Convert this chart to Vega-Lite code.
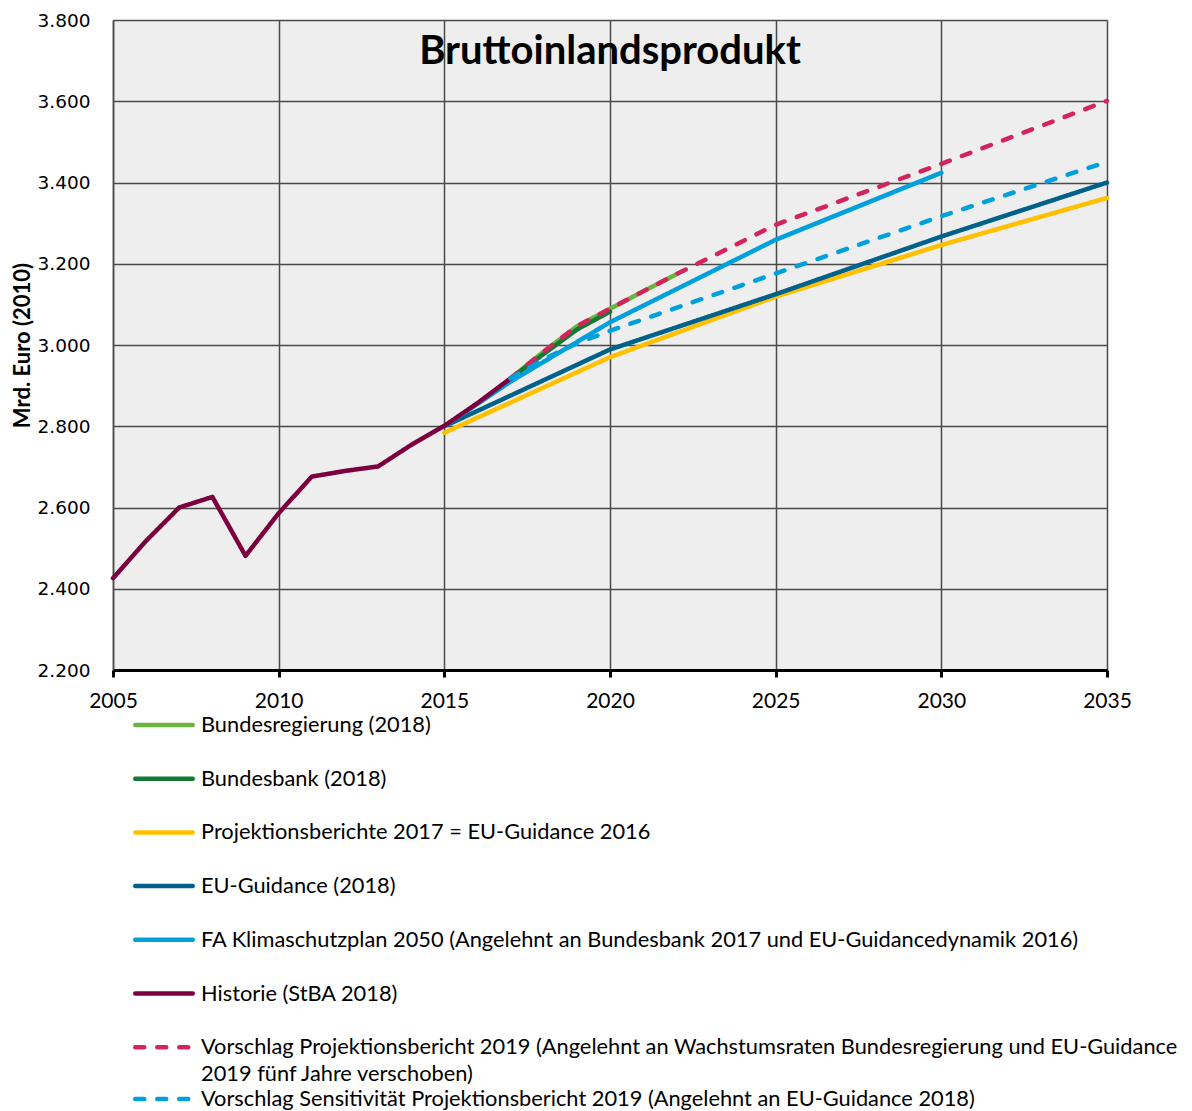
{
  "$schema": "https://vega.github.io/schema/vega-lite/v6.json",
  "width": 994,
  "height": 650,
  "autosize": "none",
  "padding": {"left": 113, "top": 20, "right": 85, "bottom": 441},
  "background": "white",
  "title": {
    "text": "Bruttoinlandsprodukt",
    "anchor": "middle",
    "frame": "group",
    "font": "Lato",
    "fontSize": 40,
    "fontWeight": "bold",
    "color": "#000000",
    "baseline": "alphabetic",
    "offset": -44,
    "dy": 49
  },
  "config": {
    "view": {"fill": "#eeeeee", "stroke": null},
    "font": "Lato",
    "legend": {
      "orient": "none",
      "direction": "vertical",
      "title": null,
      "symbolType": "stroke",
      "symbolSize": 3306,
      "symbolStrokeWidth": 4.5,
      "symbolOffset": 0,
      "clipHeight": 20,
      "rowPadding": 31.7,
      "labelFont": "Lato",
      "labelFontSize": 21.8,
      "labelColor": "#000000",
      "labelOffset": 6,
      "labelLimit": 1150,
      "labelBaseline": "top",
      "padding": 0
    }
  },
  "data": {
    "values": [
      {"series": "Bundesregierung (2018)", "year": 2017, "value": 2918},
      {"series": "Bundesregierung (2018)", "year": 2018, "value": 2984},
      {"series": "Bundesregierung (2018)", "year": 2019, "value": 3046},
      {"series": "Bundesregierung (2018)", "year": 2020, "value": 3089},
      {"series": "Bundesregierung (2018)", "year": 2021, "value": 3132},
      {"series": "Bundesregierung (2018)", "year": 2022, "value": 3174},
      {"series": "Bundesbank (2018)", "year": 2017, "value": 2918},
      {"series": "Bundesbank (2018)", "year": 2018, "value": 2978},
      {"series": "Bundesbank (2018)", "year": 2019, "value": 3038},
      {"series": "Bundesbank (2018)", "year": 2020, "value": 3082},
      {"series": "Projektionsberichte 2017 = EU-Guidance 2016", "year": 2015, "value": 2784},
      {"series": "Projektionsberichte 2017 = EU-Guidance 2016", "year": 2020, "value": 2970},
      {"series": "Projektionsberichte 2017 = EU-Guidance 2016", "year": 2025, "value": 3119},
      {"series": "Projektionsberichte 2017 = EU-Guidance 2016", "year": 2030, "value": 3246},
      {"series": "Projektionsberichte 2017 = EU-Guidance 2016", "year": 2035, "value": 3362},
      {"series": "EU-Guidance (2018)", "year": 2015, "value": 2800},
      {"series": "EU-Guidance (2018)", "year": 2020, "value": 2989},
      {"series": "EU-Guidance (2018)", "year": 2025, "value": 3125},
      {"series": "EU-Guidance (2018)", "year": 2030, "value": 3267},
      {"series": "EU-Guidance (2018)", "year": 2035, "value": 3400},
      {"series": "FA Klimaschutzplan 2050 (Angelehnt an Bundesbank 2017 und EU-Guidancedynamik 2016)", "year": 2015, "value": 2800},
      {"series": "FA Klimaschutzplan 2050 (Angelehnt an Bundesbank 2017 und EU-Guidancedynamik 2016)", "year": 2016, "value": 2855},
      {"series": "FA Klimaschutzplan 2050 (Angelehnt an Bundesbank 2017 und EU-Guidancedynamik 2016)", "year": 2017, "value": 2910},
      {"series": "FA Klimaschutzplan 2050 (Angelehnt an Bundesbank 2017 und EU-Guidancedynamik 2016)", "year": 2020, "value": 3056},
      {"series": "FA Klimaschutzplan 2050 (Angelehnt an Bundesbank 2017 und EU-Guidancedynamik 2016)", "year": 2025, "value": 3259},
      {"series": "FA Klimaschutzplan 2050 (Angelehnt an Bundesbank 2017 und EU-Guidancedynamik 2016)", "year": 2030, "value": 3424},
      {"series": "Historie (StBA 2018)", "year": 2005, "value": 2426},
      {"series": "Historie (StBA 2018)", "year": 2006, "value": 2518},
      {"series": "Historie (StBA 2018)", "year": 2007, "value": 2600},
      {"series": "Historie (StBA 2018)", "year": 2008, "value": 2626},
      {"series": "Historie (StBA 2018)", "year": 2009, "value": 2481},
      {"series": "Historie (StBA 2018)", "year": 2010, "value": 2586},
      {"series": "Historie (StBA 2018)", "year": 2011, "value": 2676},
      {"series": "Historie (StBA 2018)", "year": 2012, "value": 2690},
      {"series": "Historie (StBA 2018)", "year": 2013, "value": 2701},
      {"series": "Historie (StBA 2018)", "year": 2014, "value": 2754},
      {"series": "Historie (StBA 2018)", "year": 2015, "value": 2801},
      {"series": "Historie (StBA 2018)", "year": 2016, "value": 2857},
      {"series": "Historie (StBA 2018)", "year": 2017, "value": 2918},
      {"series": "Vorschlag Projektionsbericht 2019 (Angelehnt an Wachstumsraten Bundesregierung und EU-Guidance 2019 fünf Jahre verschoben)", "year": 2017, "value": 2918},
      {"series": "Vorschlag Projektionsbericht 2019 (Angelehnt an Wachstumsraten Bundesregierung und EU-Guidance 2019 fünf Jahre verschoben)", "year": 2018, "value": 2984},
      {"series": "Vorschlag Projektionsbericht 2019 (Angelehnt an Wachstumsraten Bundesregierung und EU-Guidance 2019 fünf Jahre verschoben)", "year": 2019, "value": 3046},
      {"series": "Vorschlag Projektionsbericht 2019 (Angelehnt an Wachstumsraten Bundesregierung und EU-Guidance 2019 fünf Jahre verschoben)", "year": 2020, "value": 3089},
      {"series": "Vorschlag Projektionsbericht 2019 (Angelehnt an Wachstumsraten Bundesregierung und EU-Guidance 2019 fünf Jahre verschoben)", "year": 2021, "value": 3132},
      {"series": "Vorschlag Projektionsbericht 2019 (Angelehnt an Wachstumsraten Bundesregierung und EU-Guidance 2019 fünf Jahre verschoben)", "year": 2022, "value": 3174},
      {"series": "Vorschlag Projektionsbericht 2019 (Angelehnt an Wachstumsraten Bundesregierung und EU-Guidance 2019 fünf Jahre verschoben)", "year": 2025, "value": 3296},
      {"series": "Vorschlag Projektionsbericht 2019 (Angelehnt an Wachstumsraten Bundesregierung und EU-Guidance 2019 fünf Jahre verschoben)", "year": 2030, "value": 3446},
      {"series": "Vorschlag Projektionsbericht 2019 (Angelehnt an Wachstumsraten Bundesregierung und EU-Guidance 2019 fünf Jahre verschoben)", "year": 2035, "value": 3601},
      {"series": "Vorschlag Sensitivität Projektionsbericht 2019 (Angelehnt an EU-Guidance 2018)", "year": 2017, "value": 2918},
      {"series": "Vorschlag Sensitivität Projektionsbericht 2019 (Angelehnt an EU-Guidance 2018)", "year": 2018, "value": 2965},
      {"series": "Vorschlag Sensitivität Projektionsbericht 2019 (Angelehnt an EU-Guidance 2018)", "year": 2019, "value": 3004},
      {"series": "Vorschlag Sensitivität Projektionsbericht 2019 (Angelehnt an EU-Guidance 2018)", "year": 2020, "value": 3035},
      {"series": "Vorschlag Sensitivität Projektionsbericht 2019 (Angelehnt an EU-Guidance 2018)", "year": 2025, "value": 3176},
      {"series": "Vorschlag Sensitivität Projektionsbericht 2019 (Angelehnt an EU-Guidance 2018)", "year": 2030, "value": 3317},
      {"series": "Vorschlag Sensitivität Projektionsbericht 2019 (Angelehnt an EU-Guidance 2018)", "year": 2035, "value": 3451}
    ]
  },
  "encoding": {
    "x": {
      "field": "year",
      "type": "quantitative",
      "scale": {"domain": [2005, 2035], "nice": false, "zero": false},
      "axis": {
        "title": null,
        "values": [2005, 2010, 2015, 2020, 2025, 2030, 2035],
        "format": "d",
        "labelFont": "Lato",
        "labelFontSize": 21,
        "labelColor": "#000000",
        "labelBaseline": "top",
        "labelPadding": 13,
        "labelFlush": false,
        "labelOverlap": false,
        "ticks": true,
        "tickSize": 7,
        "tickWidth": 3,
        "tickColor": "#000000",
        "domain": true,
        "domainColor": "#000000",
        "domainWidth": 3,
        "grid": true,
        "gridColor": "#4a4a4a",
        "gridWidth": 1.5
      }
    },
    "y": {
      "field": "value",
      "type": "quantitative",
      "scale": {"domain": [2200, 3800], "nice": false, "zero": false},
      "axis": {
        "title": "Mrd. Euro (2010)",
        "titleFont": "Lato",
        "titleFontSize": 22,
        "titleFontWeight": "bold",
        "titleColor": "#000000",
        "titleAngle": -90,
        "titleX": -91,
        "titleY": 325,
        "titleAlign": "center",
        "titleBaseline": "middle",
        "values": [2200, 2400, 2600, 2800, 3000, 3200, 3400, 3600, 3800],
        "labelExpr": "replace(format(datum.value, ','), ',', '.')",
        "labelFont": "DejaVu Sans",
        "labelFontSize": 18.5,
        "labelColor": "#000000",
        "labelPadding": 23,
        "labelFlush": false,
        "labelOverlap": false,
        "ticks": false,
        "domain": true,
        "domainColor": "#4a4a4a",
        "domainWidth": 1.5,
        "grid": true,
        "gridColor": "#4a4a4a",
        "gridWidth": 1.5
      }
    }
  },
  "layer": [
    {
      "transform": [{"filter": "datum.series != 'Vorschlag Sensitivität Projektionsbericht 2019 (Angelehnt an EU-Guidance 2018)'"}],
      "mark": {"type": "line", "strokeWidth": 4.5, "strokeCap": "round", "strokeJoin": "round"},
      "encoding": {
        "color": {
          "field": "series",
          "type": "nominal",
          "scale": {
            "domain": [
              "Bundesregierung (2018)",
              "Bundesbank (2018)",
              "Projektionsberichte 2017 = EU-Guidance 2016",
              "EU-Guidance (2018)",
              "FA Klimaschutzplan 2050 (Angelehnt an Bundesbank 2017 und EU-Guidancedynamik 2016)",
              "Historie (StBA 2018)",
              "Vorschlag Projektionsbericht 2019 (Angelehnt an Wachstumsraten Bundesregierung und EU-Guidance 2019 fünf Jahre verschoben)"
            ],
            "range": ["#6cb33f", "#137a36", "#ffc000", "#00618b", "#00a0dc", "#7c0040", "#d4245e"]
          },
          "legend": {
            "legendX": 20,
            "legendY": 695,
            "rowPadding": 31.7,
            "labelExpr": "datum.label == 'Vorschlag Projektionsbericht 2019 (Angelehnt an Wachstumsraten Bundesregierung und EU-Guidance 2019 fünf Jahre verschoben)' ? ['Vorschlag Projektionsbericht 2019 (Angelehnt an Wachstumsraten Bundesregierung und EU-Guidance', '2019 fünf Jahre verschoben)'] : datum.label",
            "encode": {
              "labels": {"update": {"dy": {"value": -10}, "lineHeight": {"value": 27}}},
              "symbols": {"update": {"strokeCap": {"value": "round"}}}
            }
          }
        },
        "strokeDash": {
          "field": "series",
          "type": "nominal",
          "scale": {
            "domain": [
              "Bundesregierung (2018)",
              "Bundesbank (2018)",
              "Projektionsberichte 2017 = EU-Guidance 2016",
              "EU-Guidance (2018)",
              "FA Klimaschutzplan 2050 (Angelehnt an Bundesbank 2017 und EU-Guidancedynamik 2016)",
              "Historie (StBA 2018)",
              "Vorschlag Projektionsbericht 2019 (Angelehnt an Wachstumsraten Bundesregierung und EU-Guidance 2019 fünf Jahre verschoben)"
            ],
            "range": [[1, 0], [1, 0], [1, 0], [1, 0], [1, 0], [1, 0], [9, 13]]
          },
          "legend": {
            "legendX": 20,
            "legendY": 695,
            "rowPadding": 31.7,
            "labelExpr": "datum.label == 'Vorschlag Projektionsbericht 2019 (Angelehnt an Wachstumsraten Bundesregierung und EU-Guidance 2019 fünf Jahre verschoben)' ? ['Vorschlag Projektionsbericht 2019 (Angelehnt an Wachstumsraten Bundesregierung und EU-Guidance', '2019 fünf Jahre verschoben)'] : datum.label",
            "encode": {
              "labels": {"update": {"dy": {"value": -10}, "lineHeight": {"value": 27}}},
              "symbols": {"update": {"strokeCap": {"value": "round"}}}
            }
          }
        }
      }
    },
    {
      "transform": [{"filter": "datum.series == 'Vorschlag Sensitivität Projektionsbericht 2019 (Angelehnt an EU-Guidance 2018)'"}],
      "mark": {"type": "line", "strokeWidth": 4.5, "strokeCap": "round", "strokeJoin": "round", "strokeDash": [9, 13]},
      "encoding": {
        "stroke": {
          "field": "series",
          "type": "nominal",
          "scale": {
            "domain": ["Vorschlag Sensitivität Projektionsbericht 2019 (Angelehnt an EU-Guidance 2018)"],
            "range": ["#00a0dc"]
          },
          "legend": {
            "legendX": 20,
            "legendY": 1069,
            "symbolDash": [9, 13],
            "encode": {
              "labels": {"update": {"dy": {"value": -10}}},
              "symbols": {"update": {"strokeCap": {"value": "round"}}}
            }
          }
        }
      }
    }
  ]
}
